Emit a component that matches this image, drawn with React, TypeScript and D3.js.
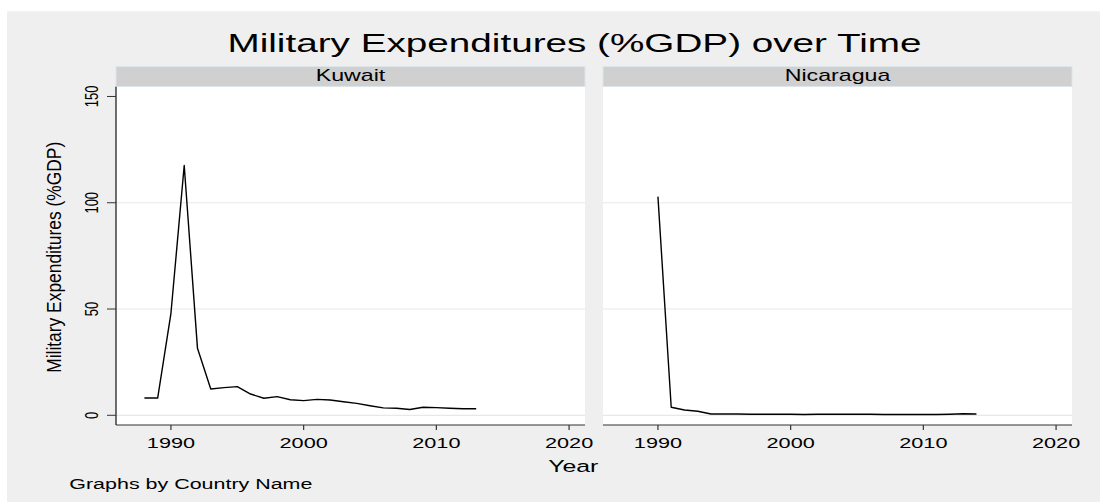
import React from "react";
import * as d3 from "d3";

// Military expenditures (% of GDP) by year
const kuwaitYears = [1988, 1989, 1990, 1991, 1992, 1993, 1994, 1995, 1996, 1997, 1998, 1999, 2000, 2001, 2002, 2003, 2004, 2005, 2006, 2007, 2008, 2009, 2010, 2011, 2012, 2013];
const kuwaitValues = [8.1, 8.1, 48, 117.5, 31.5, 12.4, 13.0, 13.5, 10.0, 8.0, 8.8, 7.3, 6.9, 7.5, 7.2, 6.4, 5.6, 4.5, 3.5, 3.3, 2.7, 3.8, 3.6, 3.3, 3.1, 3.1];

const nicaraguaYears = [1990, 1991, 1992, 1993, 1994, 1995, 1996, 1997, 1998, 1999, 2000, 2001, 2002, 2003, 2004, 2005, 2006, 2007, 2008, 2009, 2010, 2011, 2012, 2013, 2014];
const nicaraguaValues = [102.9, 3.8, 2.5, 1.9, 0.6, 0.6, 0.6, 0.5, 0.5, 0.5, 0.5, 0.4, 0.5, 0.5, 0.5, 0.5, 0.5, 0.4, 0.4, 0.4, 0.4, 0.4, 0.5, 0.7, 0.6];

const countries = ["Kuwait", "Nicaragua"];
const xTicks = [1990, 2000, 2010, 2020];
const yTicks = [0, 50, 100, 150];
const gridTicks = [0, 50, 100];

const W = 1100;
const H = 503;
const SX = 1.45; // horizontal text stretch
const FONT = "Arial, 'Liberation Sans', Helvetica, sans-serif";

const panelW = 469;
const panelLefts = [116, 603];
const plotTop = 86.7;
const plotBottom = 425;

const y = d3.scaleLinear().domain([-4.57, 154.6]).range([plotBottom, plotTop]);

function SText(props: {
  x: number; y: number; size: number; anchor?: string; rotate?: number; sx?: number; children: React.ReactNode; fill?: string; length?: number;
}) {
  const { x, y: ty, size, anchor = "middle", rotate = 0, sx = SX, fill = "#000", length } = props;
  return (
    <text
      transform={`translate(${x},${ty}) scale(${sx},1) rotate(${rotate})`}
      fontSize={size}
      fontFamily={FONT}
      textAnchor={anchor}
      fill={fill}
      textLength={length}
      lengthAdjust={length ? "spacingAndGlyphs" : undefined}
    >
      {props.children}
    </text>
  );
}

function Panel({ idx }: { idx: number }) {
  const x0 = panelLefts[idx];
  const x = d3.scaleLinear().domain([1985.86, 2021.2]).range([x0, x0 + panelW]);
  const years = idx === 0 ? kuwaitYears : nicaraguaYears;
  const vals = idx === 0 ? kuwaitValues : nicaraguaValues;
  const pts: [number, number][] = years.map((yr, i) => [yr, vals[i]]);
  const line = d3.line<[number, number]>().x((d) => x(d[0])).y((d) => y(d[1]));
  return (
    <g>
      <rect x={x0} y={plotTop} width={panelW} height={plotBottom - plotTop} fill="#ffffff" />
      {gridTicks.map((t) => (
        <line key={t} x1={x0} x2={x0 + panelW} y1={y(t)} y2={y(t)} stroke="#e8e8e8" strokeWidth={1.2} />
      ))}
      <rect x={x0} y={66.5} width={panelW} height={20} fill="#d0d0d0" stroke="#dbe5ea" strokeWidth={1} />
      <SText x={x0 + panelW / 2} y={81} size={16}>{countries[idx]}</SText>
      <path d={line(pts) || ""} fill="none" stroke="#000" strokeWidth={1.4} strokeLinejoin="round" />
      <line x1={x0} x2={x0 + panelW} y1={plotBottom} y2={plotBottom} stroke="#333" strokeWidth={1.2} />
      {xTicks.map((t) => (
        <g key={t}>
          <line x1={x(t)} x2={x(t)} y1={plotBottom} y2={plotBottom + 5} stroke="#333" strokeWidth={1.2} />
          <SText x={x(t)} y={448.3} size={14} sx={1.55}>{t}</SText>
        </g>
      ))}
      {idx === 0 && (
        <g>
          <line x1={x0} x2={x0} y1={plotTop} y2={plotBottom} stroke="#333" strokeWidth={1.4} />
          {yTicks.map((t) => (
            <g key={t}>
              <line x1={x0 - 9} x2={x0} y1={y(t)} y2={y(t)} stroke="#333" strokeWidth={1} />
              <SText x={98} y={y(t)} size={13} rotate={-90} sx={1.35}>{t}</SText>
            </g>
          ))}
        </g>
      )}
    </g>
  );
}

export default function App() {
  return (
    <svg width={W} height={H} style={{ position: "absolute", left: 0, top: 0, display: "block" }}>
      <rect x={0} y={0} width={W} height={H} fill="#ffffff" />
      <rect x={7} y={11.3} width={W - 7} height={490.7} fill="#efefef" />
      <SText x={574.5} y={51.7} size={26.5} sx={1.46}>Military Expenditures (%GDP) over Time</SText>
      <Panel idx={0} />
      <Panel idx={1} />
      <SText x={61} y={257.3} size={16} rotate={-90} sx={1.25} length={231}>Military Expenditures (%GDP)</SText>
      <SText x={573.3} y={472.3} size={17} sx={1.46}>Year</SText>
      <SText x={69.3} y={489.3} size={15} anchor="start" sx={1.43}>Graphs by Country Name</SText>
    </svg>
  );
}
